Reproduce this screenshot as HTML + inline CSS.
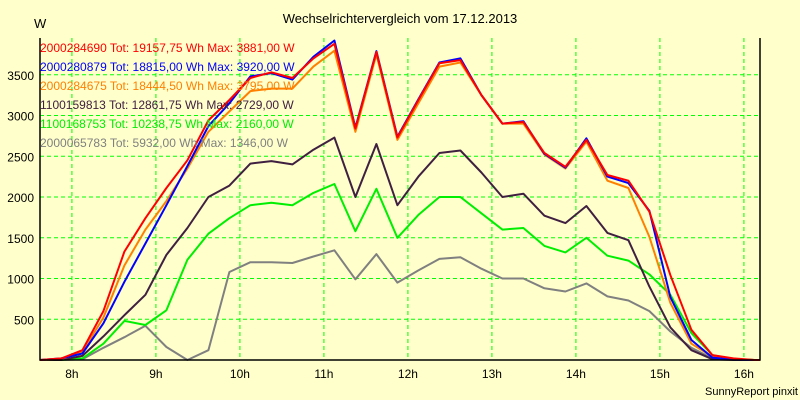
<!DOCTYPE html>
<html><head><meta charset="utf-8"><style>
body{margin:0;background:#ffffcc;}
svg{display:block;font-family:"Liberation Sans",sans-serif;}
</style></head><body>
<svg id="chart" width="800" height="400">
<rect x="0" y="0" width="800" height="400" fill="#ffffcc"/>
<text x="400" y="23" font-size="13" text-anchor="middle">Wechselrichtervergleich vom 17.12.2013</text>
<text x="34" y="28" font-size="13">W</text>
<text x="798" y="395" font-size="11" text-anchor="end">SunnyReport pinxit</text>
<g id="grid"></g><g id="series"></g><g id="axes"></g><g id="legend"></g>
</svg>
<script>
const times=[7.875,8.125,8.375,8.625,8.875,9.125,9.375,9.625,9.875,10.125,10.375,10.625,10.875,11.125,11.375,11.625,11.875,12.125,12.375,12.625,12.875,13.125,13.375,13.625,13.875,14.125,14.375,14.625,14.875,15.125,15.375,15.625,15.875,16.125];
const yTicks=[500,1000,1500,2000,2500,3000,3500];
const xTicks=[8,9,10,11,12,13,14,15,16];
const red=[20,120,600,1330,1740,2110,2450,2940,3190,3460,3530,3460,3700,3880,2840,3780,2730,3190,3640,3680,3250,2900,2920,2540,2370,2700,2270,2200,1820,1040,370,60,20,0];
const blue=[20,80,450,960,1430,1900,2380,2870,3150,3480,3520,3440,3720,3920,2850,3790,2740,3200,3650,3700,3250,2900,2930,2530,2360,2720,2250,2170,1830,770,245,30,5,0];
const orange=[10,100,520,1160,1600,1950,2350,2800,3050,3300,3330,3330,3600,3795,2800,3750,2700,3150,3600,3650,3250,2900,2900,2520,2350,2680,2200,2110,1510,700,200,40,10,0];
const dark=[0,50,290,550,800,1290,1620,2000,2140,2410,2440,2400,2580,2729,2000,2650,1900,2250,2540,2570,2300,2000,2040,1770,1680,1890,1560,1470,900,400,120,10,0,0];
const green=[0,20,200,480,430,610,1230,1550,1740,1900,1930,1900,2050,2160,1580,2100,1500,1780,2000,2000,1800,1600,1620,1400,1320,1500,1280,1220,1050,800,330,60,10,0];
const gray=[0,10,150,280,420,160,0,120,1080,1200,1200,1190,1270,1346,990,1300,950,1100,1240,1260,1120,1000,1000,880,840,940,780,730,600,350,150,20,5,0];
const seriesNames=["2000284690 Tot: 19157,75 Wh Max: 3881,00 W","2000280879 Tot: 18815,00 Wh Max: 3920,00 W","2000284675 Tot: 18444,50 Wh Max: 3795,00 W","1100159813 Tot: 12861,75 Wh Max: 2729,00 W","1100168753 Tot: 10238,75 Wh Max: 2160,00 W","2000065783 Tot: 5932,00 Wh Max: 1346,00 W"];
const NS="http://www.w3.org/2000/svg";
const L=40,R=760,B=360,T=38;
const xs=t=>L+(t-7.62)*84;
const ys=v=>B-v*0.0815;
function mk(tag,attrs,parent){const e=document.createElementNS(NS,tag);for(const k in attrs)e.setAttribute(k,attrs[k]);parent.appendChild(e);return e;}
const grid=document.getElementById('grid'),axes=document.getElementById('axes'),sg=document.getElementById('series'),lg=document.getElementById('legend');
yTicks.forEach(v=>{
 const l=mk('line',{x1:L,x2:R,y1:ys(v),y2:ys(v),stroke:'#00ff00','stroke-dasharray':'4,3'},grid);
 
 
 const t=mk('text',{x:34,y:ys(v)+5,'font-size':12,'text-anchor':'end'},axes);t.textContent=v;
 
 
});
xTicks.forEach(h=>{
 const l=mk('line',{x1:xs(h),x2:xs(h),y1:T,y2:B,stroke:'#00ff00','stroke-dasharray':'4,3'},grid);
 
 
 const t=mk('text',{x:xs(h),y:378,'font-size':12,'text-anchor':'middle'},axes);t.textContent=h+'h';
 
 
});
const ax=mk('path',{d:`M${L} ${T}V${B}H${R}V${T}`,fill:'none',stroke:'#000','stroke-width':1.5},axes);


const all=[red,blue,orange,dark,green,gray];
const colors=['#ff0000','#0000ff','#ff8000','#402040','#00ee00','#808080'];
const order=[5,4,3,2,1,0];
order.forEach(i=>{
 const d=all[i];let p=`M${L} ${ys(0)}`;
 d.forEach((v,j)=>{p+=` L${xs(times[j]).toFixed(1)} ${ys(v).toFixed(1)}`;});
 p+=` L${R} ${ys(0)}`;
 const e=mk('path',{d:p,fill:'none',stroke:colors[i],'stroke-width':2,'stroke-linejoin':'round'},sg);
 
 
});
seriesNames.forEach((n,i)=>{
 const t=mk('text',{x:40,y:52+i*19,'font-size':12,fill:colors[i]},lg);t.textContent=n;
 
 
});
</script>
</body></html>
